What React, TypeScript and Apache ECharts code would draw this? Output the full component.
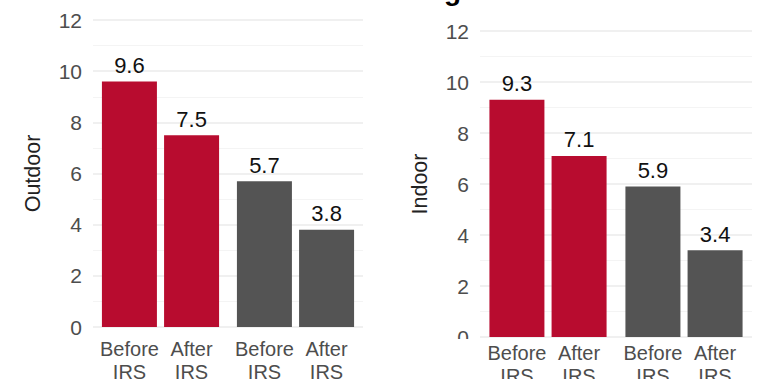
import React, { useEffect, useRef } from "react";
import * as echarts from "echarts";

// Groups along each panel's x axis; each group holds a "Before IRS" and an "After IRS" bar
const groups = ["Group A", "Group B"];
const periodTop = ["Before", "After"];
const periodBottom = ["IRS", "IRS"];

// Rates per group: [before, after]
const outdoorBefore = [9.6, 5.7];
const outdoorAfter = [7.5, 3.8];
const indoorBefore = [9.3, 5.9];
const indoorAfter = [7.1, 3.4];

const groupColors = ["#b80c2f", "#545454"];
const yTicks = { min: 0, max: 12, interval: 2 };

const FONT = "Liberation Sans, Arial, sans-serif";

function xLabelFormatter() {
  return (
    `{a|${periodTop[0]}}{g|}{a|${periodTop[1]}}\n` +
    `{a|${periodBottom[0]}}{g|}{a|${periodBottom[1]}}`
  );
}

function makeXAxis(gridIndex: number, margin: number) {
  return {
    type: "category",
    gridIndex,
    data: groups,
    axisLine: { show: false },
    axisTick: { show: false },
    axisLabel: {
      interval: 0,
      hideOverlap: false,
      margin,
      formatter: xLabelFormatter,
      rich: {
        a: {
          width: 55,
          align: "center",
          fontSize: 20,
          color: "#4d4d4d",
          fontFamily: FONT,
          lineHeight: 23,
        },
        g: { width: 7, lineHeight: 23 },
      },
    },
  };
}

function makeYAxis(gridIndex: number, name: string) {
  return {
    type: "value",
    gridIndex,
    min: yTicks.min,
    max: yTicks.max,
    interval: yTicks.interval,
    name,
    nameLocation: "middle",
    nameGap: 49,
    nameTextStyle: { fontSize: 21.5, color: "#222", fontFamily: FONT },
    axisLine: { show: false },
    axisTick: { show: false },
    axisLabel: { fontSize: 21, color: "#4d4d4d", fontFamily: FONT, margin: 11 },
    splitLine: { lineStyle: { color: "#ebebeb", width: 1.5 } },
    minorTick: { show: false, splitNumber: 2 },
    minorSplitLine: { show: true, lineStyle: { color: "#f4f4f4", width: 1 } },
  };
}

function makeSeries(values: number[], axisIndex: number) {
  return {
    type: "bar",
    xAxisIndex: axisIndex,
    yAxisIndex: axisIndex,
    barWidth: 55,
    barGap: "13%",
    data: values.map((v, i) => ({ value: v, itemStyle: { color: groupColors[i] } })),
    label: {
      show: true,
      position: "top",
      distance: 5,
      fontSize: 22,
      color: "#111",
      fontFamily: FONT,
      formatter: (p: any) => p.value.toFixed(1),
    },
  };
}

export default function App() {
  const ref = useRef<HTMLDivElement>(null);

  useEffect(() => {
    if (!ref.current) return;
    const chart = echarts.init(ref.current, undefined, { renderer: "svg" });
    chart.setOption({
      animation: false,
      backgroundColor: "#ffffff",
      grid: [
        { left: 93, width: 270, top: 20, bottom: 52, outerBoundsMode: "none" },
        { left: 480, width: 272, top: 31, bottom: 42, outerBoundsMode: "none" },
      ],
      xAxis: [makeXAxis(0, 10), makeXAxis(1, 4)],
      yAxis: [makeYAxis(0, "Outdoor"), makeYAxis(1, "Indoor")],
      series: [
        makeSeries(outdoorBefore, 0),
        makeSeries(outdoorAfter, 0),
        makeSeries(indoorBefore, 1),
        makeSeries(indoorAfter, 1),
      ],
      graphic: [
        {
          type: "text",
          x: 409,
          y: 4.6,
          z: 100,
          style: {
            text: "Human biting rates",
            font: `bold 28px ${FONT}`,
            fill: "#000",
            align: "center",
            verticalAlign: "bottom",
          },
        },
        {
          type: "rect",
          z: 100,
          shape: { x: 440, y: 339, width: 38, height: 40 },
          style: { fill: "#ffffff" },
        },
      ],
    });
    return () => chart.dispose();
  }, []);

  return (
    <div
      ref={ref}
      style={{ position: "fixed", left: 0, top: 0, width: 769, height: 379 }}
    />
  );
}
